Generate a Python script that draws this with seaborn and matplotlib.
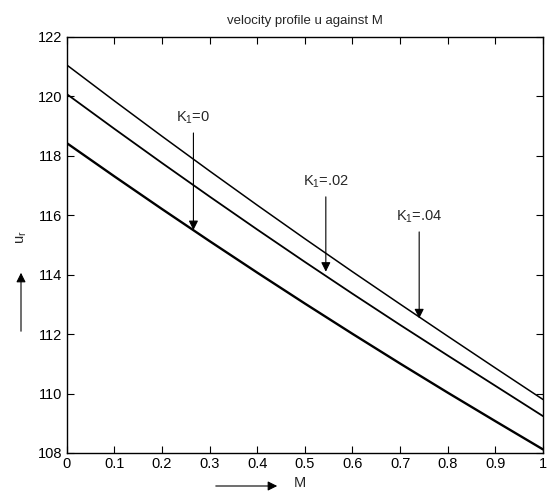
import matplotlib
matplotlib.use("Agg")
import matplotlib.pyplot as plt
import seaborn as sns
import pandas as pd

M = [0.0, 0.1, 0.2, 0.3, 0.4, 0.5, 0.6, 0.7, 0.8, 0.9, 1.0]
u_k0 = [118.43, 117.31, 116.21, 115.13, 114.07, 113.03, 112.01, 111.01, 110.03, 109.07, 108.12]
u_k02 = [120.08, 118.91, 117.76, 116.63, 115.52, 114.43, 113.36, 112.31, 111.28, 110.26, 109.24]
u_k04 = [121.06, 119.85, 118.66, 117.49, 116.34, 115.21, 114.10, 113.01, 111.93, 110.86, 109.80]
series_labels = ["K$_1$=0", "K$_1$=.02", "K$_1$=.04"]
x_ticks = [0, 0.1, 0.2, 0.3, 0.4, 0.5, 0.6, 0.7, 0.8, 0.9, 1]
x_tick_labels = ["0", "0.1", "0.2", "0.3", "0.4", "0.5", "0.6", "0.7", "0.8", "0.9", "1"]
y_ticks = [108, 110, 112, 114, 116, 118, 120, 122]

sns.set_style("ticks")
plt.rcParams["font.family"] = ["Liberation Sans", "DejaVu Sans"]
plt.rcParams["mathtext.fontset"] = "custom"
plt.rcParams["mathtext.rm"] = "Liberation Sans"
plt.rcParams["mathtext.it"] = "Liberation Sans"

fig = plt.figure(figsize=(5.47, 4.92), dpi=100)
ax = fig.add_axes([0.122, 0.0793, 0.8707, 0.8455])

df = pd.DataFrame({"M": M * 3,
                   "u": u_k0 + u_k02 + u_k04,
                   "K": [series_labels[0]] * len(M) + [series_labels[1]] * len(M) + [series_labels[2]] * len(M)})
widths = {series_labels[0]: 1.7, series_labels[1]: 1.3, series_labels[2]: 1.1}
for lab in series_labels:
    sns.lineplot(data=df[df["K"] == lab], x="M", y="u", color="black",
                 linewidth=widths[lab], ax=ax, legend=False)

ax.set_xlim(0, 1)
ax.set_ylim(108, 122)
ax.set_xticks(x_ticks)
ax.set_xticklabels(x_tick_labels)
ax.set_yticks(y_ticks)
ax.set_xlabel("")
ax.set_ylabel("")
ax.tick_params(direction="in", length=5, width=0.8, top=True, right=True,
               labelsize=10.5, colors="black", pad=3)
for s in ax.spines.values():
    s.set_visible(True)
    s.set_linewidth(1.0)
    s.set_color("black")

ax.set_title("velocity profile u against M", fontsize=9.5, pad=9)

# annotations with arrows
ann = [(series_labels[0], 0.266, 119.27, 118.77, 115.5),
       (series_labels[1], 0.544, 117.13, 116.62, 114.1),
       (series_labels[2], 0.740, 115.95, 115.44, 112.53)]
for lab, xa, yt, ys, ye in ann:
    ax.text(xa, yt, lab, ha="center", va="center", fontsize=10.5)
    ax.annotate("", xy=(xa, ye), xytext=(xa, ys),
                arrowprops=dict(arrowstyle="-|>", color="black", lw=0.8,
                                mutation_scale=14, shrinkA=0, shrinkB=0))

# axis labels with arrows (figure coordinates)
fig.text(22 / 547, 1 - 237 / 492, "u$_r$", rotation=90, ha="center", va="center", fontsize=10.5)
fig.add_artist(matplotlib.patches.FancyArrowPatch((21 / 547, 1 - 334 / 492), (21 / 547, 1 - 270 / 492),
               transform=fig.transFigure, arrowstyle="-|>", mutation_scale=14, lw=0.8, color="black"))
fig.text(300 / 547, 1 - 483 / 492, "M", ha="center", va="center", fontsize=10.5)
fig.add_artist(matplotlib.patches.FancyArrowPatch((213 / 547, 1 - 486 / 492), (280 / 547, 1 - 486 / 492),
               transform=fig.transFigure, arrowstyle="-|>", mutation_scale=14, lw=0.8, color="black"))

fig.savefig("out.png", dpi=100)
